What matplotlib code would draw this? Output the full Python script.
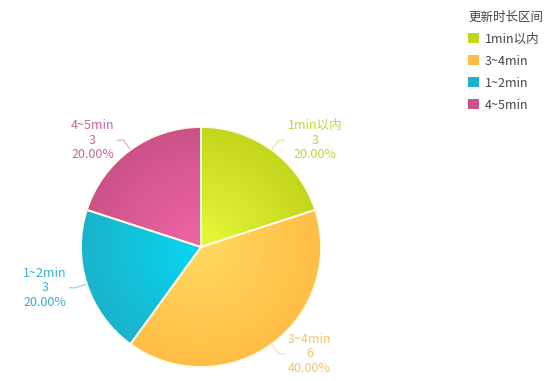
import numpy as np
import matplotlib.pyplot as plt
from matplotlib.colors import to_rgb
from matplotlib.patches import Patch

plt.rcParams['font.family'] = ['Noto Sans CJK SC', 'DejaVu Sans']

# slices, clockwise from 12 o'clock
labels = ['1min以内', '3~4min', '1~2min', '4~5min']
counts = [3, 6, 3, 3]
legend_title = '更新时长区间'

# outer / inner colours of each slice (radial shading)
outer_colors = ['#c3d61c', '#ffbd45', '#1ab3cc', '#cc5189']
inner_colors = ['#e6f83a', '#ffd85e', '#08d6f0', '#ee66a4']
text_colors = ['#c2d42e', '#f3c46a', '#36b1c4', '#c7679a']

W, H = 552, 381
fig = plt.figure(figsize=(W / 100, H / 100), dpi=100)
ax = fig.add_axes([0, 0, 1, 1])

cx, cy, R = 201, H - 247, 120

# shaded pie: stacked pies of shrinking radius
steps = 40
for i in range(steps):
    t = i / (steps - 1)
    r = R * (1 - t * 0.98)
    cols = [tuple(np.array(to_rgb(o)) * (1 - t) + np.array(to_rgb(n)) * t)
            for o, n in zip(outer_colors, inner_colors)]
    ax.pie(counts, colors=cols, startangle=90, counterclock=False,
           center=(cx, cy), radius=r, frame=True,
           wedgeprops=dict(linewidth=0))

# slice borders
wedges, _ = ax.pie(counts, colors=['none'] * 4, startangle=90, counterclock=False,
                   center=(cx, cy), radius=R, frame=True,
                   wedgeprops=dict(linewidth=1.3, edgecolor='#fbfbe8'))
ax.set_xlim(0, W)
ax.set_ylim(0, H)
ax.set_aspect('equal')
ax.axis('off')

# outside labels with leader lines
total = sum(counts)
for w, name, val, tc in zip(wedges, labels, counts, text_colors):
    mid = np.deg2rad((w.theta1 + w.theta2) / 2)
    c, s = np.cos(mid), np.sin(mid)
    x0, y0 = cx + R * 1.01 * c, cy + R * 1.01 * s
    x1, y1 = cx + R * 1.1 * c, cy + R * 1.1 * s
    side = 1 if c >= 0 else -1
    x2 = x1 + side * 6
    ax.plot([x0, x1, x2], [y0, y1, y1], color=tc, lw=0.8, alpha=0.6)
    ax.text(x2 + side * 3, y1, f'{name}\n{val}\n{val / total * 100:.2f}%',
            ha='left' if side > 0 else 'right', va='center',
            multialignment='center', fontsize=9, color=tc, linespacing=1.15)

# legend
handles = [Patch(facecolor=o, edgecolor='none') for o in outer_colors]
leg = fig.legend(handles, labels, title=legend_title, loc='upper left',
                 bbox_to_anchor=(457 / W, 1 - 0 / H), frameon=False,
                 fontsize=9, title_fontsize=9, handlelength=0.85, handleheight=0.85,
                 handletextpad=0.5, labelspacing=0.72, alignment='left',
                 labelcolor='#444444')
leg.get_title().set_color('#444444')
leg._legend_box.sep = 6

fig.savefig('out.png', dpi=100, facecolor='white')
